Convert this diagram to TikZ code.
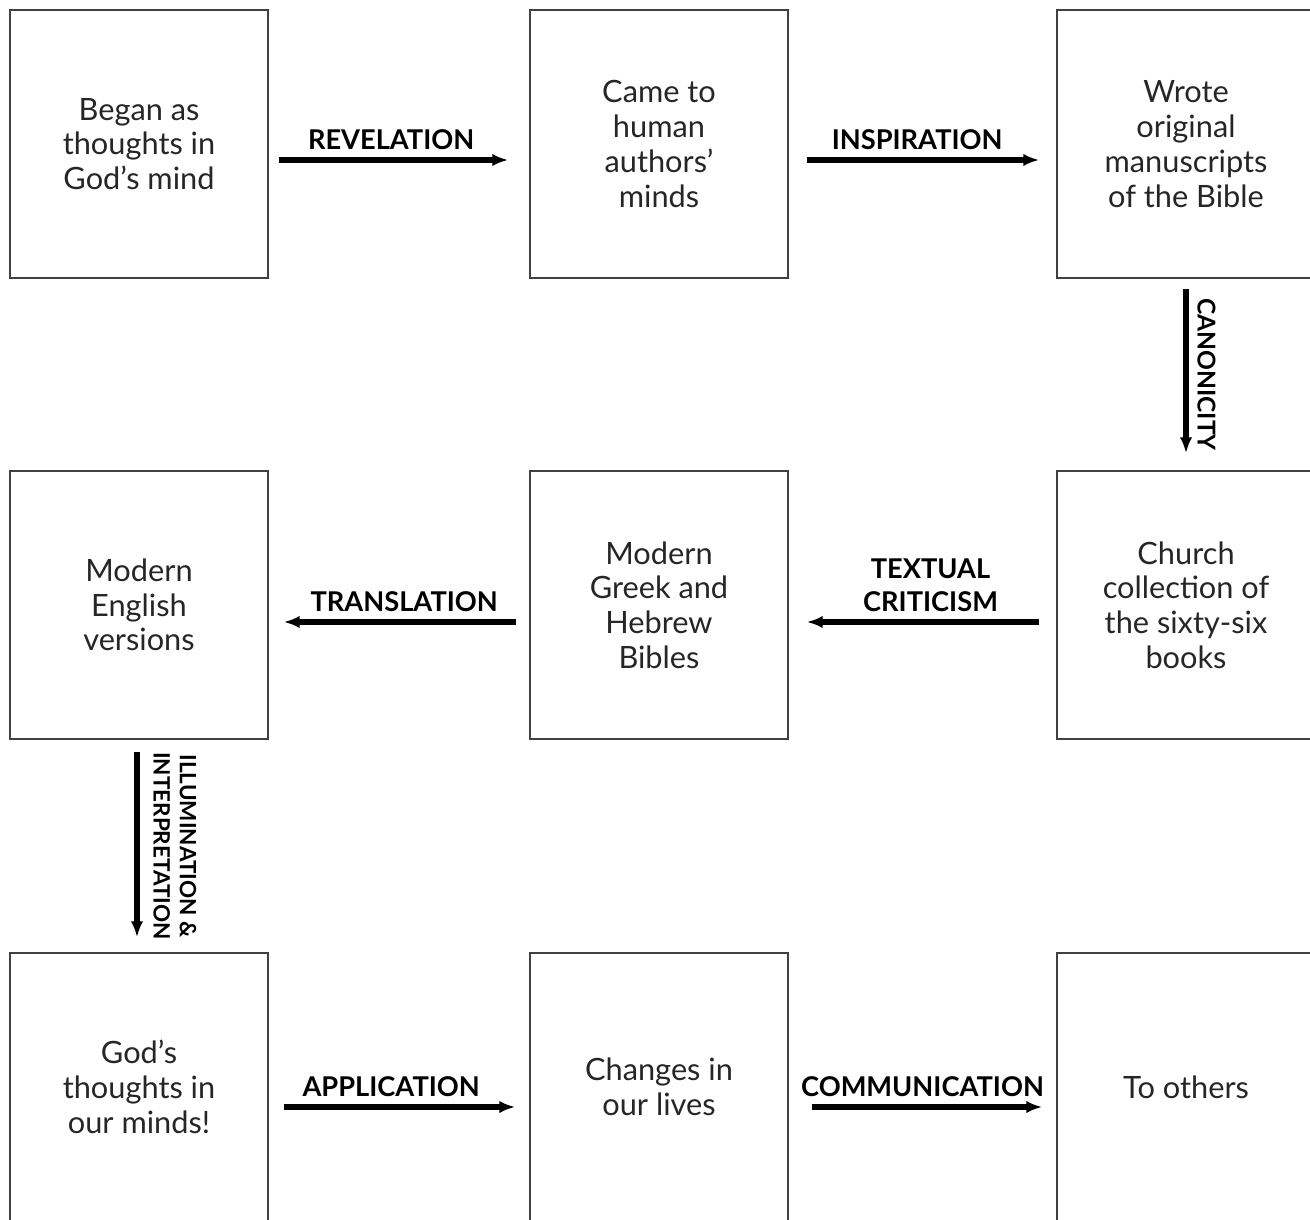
\documentclass[tikz,border=0pt]{standalone}
\usepackage{fontspec}
\setmainfont{Lato}
\usetikzlibrary{arrows.meta}

\begin{document}
\begin{tikzpicture}[x=0.02cm,y=-0.02cm]
	\tikzset{>={Latex[length=9pt,width=7pt]}}
	\tikzset{box/.style={draw=black!75, line width=0.9pt, minimum width=5.16cm, minimum height=5.36cm,
			align=center, text=black!85, font=\fontsize{17.5}{19.8}\selectfont},
		flow/.style={->, line width=3.2pt},
		tag/.style={font=\bfseries\fontsize{15.5}{18.5}\selectfont, align=center, inner sep=4.5pt},
		sidetag/.style={font=\bfseries\fontsize{14}{16}\selectfont, align=center, inner sep=2pt,
			anchor=south, rotate=-90, yshift=0.2cm}}
	\clip (0,0) rectangle (1310,1219);

	% first row
	\node[box] (began) at (139,144) {Began as\\thoughts in\\God's mind};
	\node[box] (came) at (659,144) {Came to\\human\\authors'\\minds};
	\node[box] (wrote) at (1186,144) {Wrote\\original\\manuscripts\\of the Bible};

	% second row
	\node[box] (modern) at (139,605) {Modern\\English\\versions};
	\node[box] (greek) at (659,605) {Modern\\Greek and\\Hebrew\\Bibles};
	\node[box] (church) at (1186,605) {Church\\collection of\\the sixty-six\\books};

	% third row
	\node[box] (ours) at (139,1087) {God's\\thoughts in\\our minds!};
	\node[box] (lives) at (659,1087) {Changes in\\our lives};
	\node[box] (others) at (1186,1087) {To others};

	\draw[flow, shorten <=0.2cm, shorten >=0.42cm] ([yshift=-0.32cm]began.east) -- ([yshift=-0.32cm]came.west)
		node[pos=0.47, above, tag] {REVELATION};
	\draw[flow, shorten <=0.36cm, shorten >=0.34cm] ([yshift=-0.32cm]came.east) -- ([yshift=-0.32cm]wrote.west)
		node[pos=0.48, above, tag] {INSPIRATION};
	\draw[flow, shorten <=0.2cm, shorten >=0.34cm] (wrote.south) -- (church.north)
		node[midway, sidetag, yshift=-0.1cm] {CANONICITY};
	\draw[flow, shorten <=0.34cm, shorten >=0.36cm] ([yshift=-0.34cm]church.west) -- ([yshift=-0.34cm]greek.east)
		node[pos=0.47, above, tag] {TEXTUAL\\CRITICISM};
	\draw[flow, shorten <=0.26cm, shorten >=0.3cm] ([yshift=-0.34cm]greek.west) -- ([yshift=-0.34cm]modern.east)
		node[pos=0.48, above, tag] {TRANSLATION};
	\draw[flow, shorten <=0.24cm, shorten >=0.3cm] ([xshift=-0.04cm]modern.south) -- ([xshift=-0.04cm]ours.north)
		node[midway, sidetag, font=\bfseries\fontsize{12.8}{15}\selectfont] {ILLUMINATION \&\\INTERPRETATION};
	\draw[flow, shorten <=0.3cm, shorten >=0.28cm] ([yshift=-0.4cm]ours.east) -- ([yshift=-0.4cm]lives.west)
		node[pos=0.47, above, tag] {APPLICATION};
	\draw[flow, shorten <=0.46cm, shorten >=0.28cm] ([yshift=-0.4cm]lives.east) -- ([yshift=-0.4cm]others.west)
		node[midway, above, tag] {COMMUNICATION};
\end{tikzpicture}
\end{document}
